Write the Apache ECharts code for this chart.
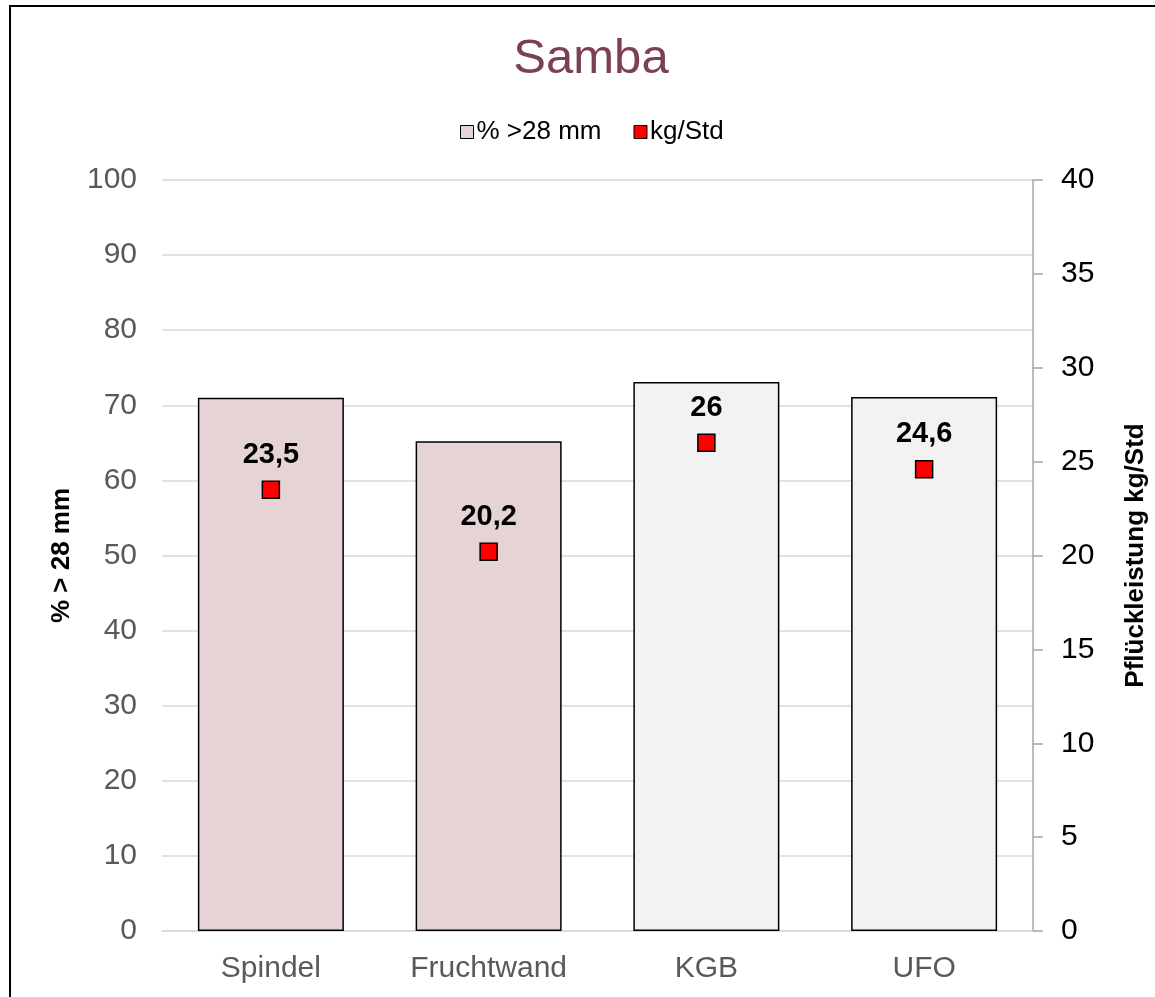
<!DOCTYPE html>
<html>
<head>
<meta charset="utf-8">
<script src="https://cdn.jsdelivr.net/npm/echarts@6/dist/echarts.min.js"></script>
<style>
html,body{margin:0;padding:0;background:#fff;overflow:hidden;}
#frame{position:absolute;left:9px;top:5px;width:1200px;height:1100px;border:2px solid #000;box-sizing:border-box;}
#chart{position:absolute;left:0;top:0;width:1155px;height:997px;}
</style>
</head>
<body>
<div id="frame"></div>
<div id="chart"></div>
<script>
const categories = ['Spindel', 'Fruchtwand', 'KGB', 'UFO'];
const percentOver28 = [71.0, 65.2, 73.1, 71.1];
const kgPerHour = [23.5, 20.2, 26, 24.6];
const barColors = ['#E6D3D6', '#E6D3D6', '#F2F2F2', '#F2F2F2'];
const leftTicks = [0, 100, 10];
const rightTicks = [0, 40, 5];

const chart = echarts.init(document.getElementById('chart'), null, {renderer: 'canvas'});
const font = 'Liberation Sans, Arial, sans-serif';
chart.setOption({
  animation: false,
  textStyle: {fontFamily: font},
  title: {
    text: 'Samba', left: 586, textAlign: 'center', top: 30,
    textStyle: {fontFamily: font, fontSize: 49, fontWeight: 'normal', color: '#7B4150'}
  },
  legend: {
    top: 114, left: 455, itemGap: 32,
    itemWidth: 13, itemHeight: 13,
    textStyle: {fontFamily: font, fontSize: 26, color: '#000', padding: [0, 0, 0, -2]},
    data: [
      {name: '% >28 mm', icon: 'rect', itemStyle: {color: '#E6D3D6', borderColor: '#000', borderWidth: 1}},
      {name: 'kg/Std', icon: 'rect', itemStyle: {color: '#FF0000', borderColor: '#000', borderWidth: 1}}
    ]
  },
  grid: {left: 162, right: 122, top: 180, bottom: 66, containLabel: false, outerBoundsMode: 'none'},
  xAxis: {
    type: 'category', data: categories,
    axisLine: {show: true, lineStyle: {color: '#D9D9D9', width: 1.5}},
    axisTick: {show: false},
    axisLabel: {fontFamily: font, fontSize: 30, color: '#595959', margin: 23}
  },
  yAxis: [
    {
      type: 'value', min: leftTicks[0], max: leftTicks[1], interval: leftTicks[2],
      name: '% > 28 mm', nameLocation: 'middle', nameGap: 87, nameRotate: 90,
      nameTextStyle: {fontFamily: font, fontSize: 26, fontWeight: 'bold', color: '#000'},
      axisLine: {show: false}, axisTick: {show: false},
      axisLabel: {fontFamily: font, fontSize: 30, color: '#595959', margin: 25},
      splitLine: {lineStyle: {color: '#D9D9D9', width: 1.5}}
    },
    {
      type: 'value', min: rightTicks[0], max: rightTicks[1], interval: rightTicks[2],
      position: 'right',
      name: 'Pflückleistung kg/Std', nameLocation: 'middle', nameGap: 90, nameRotate: 90,
      nameTextStyle: {fontFamily: font, fontSize: 26, fontWeight: 'bold', color: '#000'},
      axisLine: {show: true, lineStyle: {color: '#A6A6A6', width: 1.5}},
      axisTick: {show: true, length: 10, lineStyle: {color: '#A6A6A6', width: 1.5}},
      axisLabel: {fontFamily: font, fontSize: 30, color: '#000', margin: 28},
      splitLine: {show: false}
    }
  ],
  series: [
    {
      name: '% >28 mm', type: 'bar', yAxisIndex: 0, barWidth: 146,
      itemStyle: {color: '#E6D3D6', borderColor: '#000', borderWidth: 1.5},
      data: percentOver28.map((v, i) => ({value: v, itemStyle: {color: barColors[i]}}))
    },
    {
      name: 'kg/Std', type: 'scatter', yAxisIndex: 1,
      symbol: 'rect', symbolSize: 17,
      itemStyle: {color: '#FF0000', borderColor: '#000', borderWidth: 1.5, opacity: 1},
      label: {
        show: true, position: 'top', distance: 11,
        fontFamily: font, fontSize: 29, fontWeight: 'bold', color: '#000',
        formatter: p => String(p.value).replace('.', ',')
      },
      data: kgPerHour
    }
  ]
});
</script>
</body>
</html>
